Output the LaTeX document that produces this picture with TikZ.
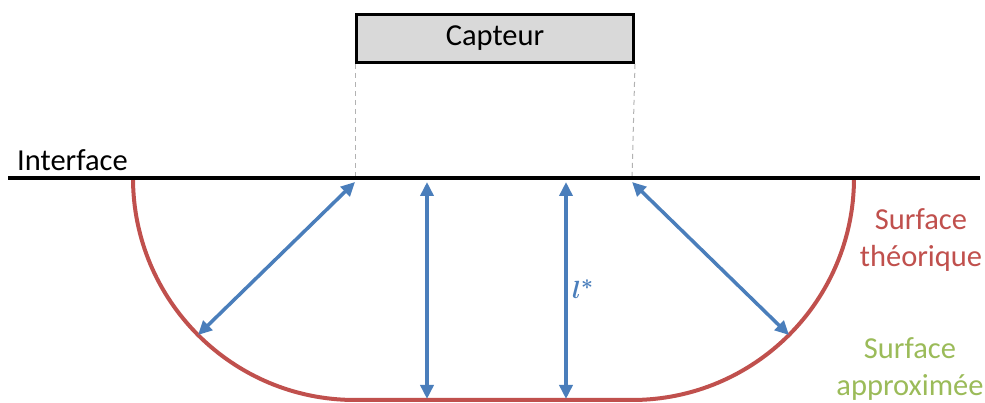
\documentclass[tikz,border=0pt]{standalone}
\usepackage{fontspec}
\setmainfont{Carlito}
\usetikzlibrary{arrows.meta}
\definecolor{cblue}{HTML}{4A7EBB}
\definecolor{cred}{HTML}{C0504D}
\definecolor{cgreen}{HTML}{9BBB59}
\definecolor{cgray}{HTML}{D9D9D9}
\newcommand{\lstarsym}{\mbox{\mathversion{bold}$l^{*}$}}
\begin{document}
\begin{tikzpicture}[x=1pt,y=1pt,
  txt/.style={font=\fontsize{30.5}{36.5}\selectfont, inner sep=0pt, align=center},
  dimarrow/.style={cblue, line width=3.5pt, {Triangle[length=14pt,width=13pt]}-{Triangle[length=14pt,width=13pt]}},
  guide/.style={gray!60, line width=1pt, dash pattern=on 5pt off 4pt}]
\useasboundingbox (0,0) rectangle (985,403);
% sensor box
\node[draw=black, line width=3pt, fill=cgray, minimum width=277pt, minimum height=48pt, inner sep=0pt, anchor=south west, txt] (capteur) at (355,339) {Capteur};
% interface
\coordinate (ifL) at (8,225);
\coordinate (ifR) at (980,225);
\coordinate (gL) at (355,225);
\coordinate (gR) at (632,225);
\draw[guide] (capteur.south west) -- (gL);
\draw[guide] (capteur.south east) -- (gR);
% theoretical surface
\draw[cred, line width=4pt] (133,225) arc[start angle=180, end angle=270, radius=222] -- (632,3) arc[start angle=270, end angle=360, radius=222];
\draw[black, line width=4pt] (ifL) -- (ifR);
\node[txt, anchor=west] (interface) at (17,243) {Interface};
% arrows
\coordinate (a1s) at (355,221);
\coordinate (a1e) at (198,68);
\coordinate (a2s) at (632,221);
\coordinate (a2e) at (789,68);
\coordinate (v1s) at (427,221);
\coordinate (v1e) at (427,4);
\coordinate (v2s) at (566,221);
\coordinate (v2e) at (566,4);
\draw[dimarrow] (a1s) -- (a1e);
\draw[dimarrow] (a2s) -- (a2e);
\draw[dimarrow] (v1s) -- (v1e);
\draw[dimarrow] (v2s) -- (v2e);
\node[cblue, inner sep=0pt, anchor=base west, font=\fontsize{30}{36}\selectfont] (lstar) at (572,104) {\lstarsym};
% labels
\node[txt, text=cred] (theo) at (921,163) {Surface\\théorique};
\node[txt, text=cgreen] (approx) at (910,34) {Surface\\approximée};
\end{tikzpicture}
\end{document}
